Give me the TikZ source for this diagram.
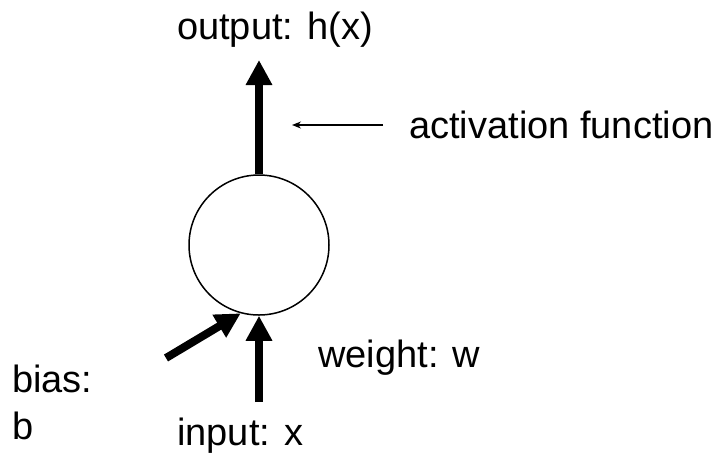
\documentclass[tikz,border=0pt]{standalone}
\usepackage{fontspec}
\setmainfont{Liberation Sans}
\usetikzlibrary{arrows.meta}
\begin{document}
\begin{tikzpicture}[x=1pt,y=-1pt,
  lbl/.style={font=\fontsize{38}{47}\selectfont, inner sep=0pt},
  thick arrow/.style={line width=8pt, -{Triangle[length=25pt,width=25pt]}},
  thin arrow/.style={line width=1.3pt, -{Stealth[length=9pt,width=7pt]}}]
\useasboundingbox (0,0) rectangle (721,459);
\node[draw, circle, line width=1.5pt, minimum size=140pt, inner sep=0pt] (c) at (259,245) {};
\coordinate (outtip) at (259,60);
\coordinate (intail) at (259,402);
\coordinate (biastail) at (166,358);
\coordinate (acttail) at (383,125);
\coordinate (acttip) at (292,125);
\draw[thick arrow] (c.north) -- (outtip);
\draw[thick arrow] (intail) -- (c.south);
\draw[thick arrow] (biastail) -- (c.255);
\draw[thin arrow] (acttail) -- (acttip);
\node[lbl] (out) at (275,30) {output: h(x)};
\node[lbl, anchor=west] (act) at (409,125) {activation function};
\node[lbl, anchor=west] (w) at (318,358) {weight: w};
\node[lbl, anchor=west] (in) at (177,436) {input: x};
\node[lbl, anchor=west, align=left] (bias) at (12,402) {bias:\\b};
\end{tikzpicture}
\end{document}
